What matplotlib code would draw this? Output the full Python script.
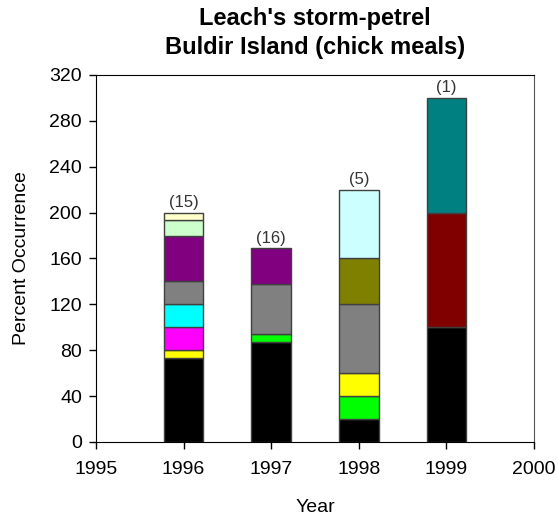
import matplotlib
matplotlib.use("Agg")
import matplotlib.pyplot as plt

plt.rcParams["font.family"] = ["Liberation Sans", "DejaVu Sans"]

# data
years = [1996, 1997, 1998, 1999]
sample_sizes = ["(15)", "(16)", "(5)", "(1)"]
prey_colors = ["#000000", "#00FF00", "#FFFF00", "#FF00FF", "#00FFFF", "#808080",
               "#808000", "#800080", "#CCFFCC", "#FFFFCC", "#CCFFFF", "#800000", "#008080"]
# percent occurrence per prey group (same order as prey_colors), one list per year
pct_1996 = [73.3, 0, 6.7, 20, 20, 20, 0, 40, 13.3, 6.7, 0, 0, 0]
pct_1997 = [87.5, 6.25, 0, 0, 0, 43.75, 0, 31.25, 0, 0, 0, 0, 0]
pct_1998 = [20, 20, 20, 0, 0, 60, 40, 0, 0, 0, 60, 0, 0]
pct_1999 = [100, 0, 0, 0, 0, 0, 0, 0, 0, 0, 0, 100, 100]
pct_by_year = [pct_1996, pct_1997, pct_1998, pct_1999]

fig = plt.figure(figsize=(5.58, 5.24), dpi=100)
ax = fig.add_axes([0.172, 0.1565, 0.785, 0.7005])

for yr, pcts, label in zip(years, pct_by_year, sample_sizes):
    bottom = 0
    for val, col in zip(pcts, prey_colors):
        if val <= 0:
            continue
        ax.bar(yr, val, width=0.45, bottom=bottom, color=col,
               edgecolor="#404040", linewidth=1)
        bottom += val
    ax.text(yr, bottom + 2.5, label, ha="center", va="bottom", fontsize=12, color="#333333")

ax.set_xlim(1995, 2000)
ax.set_ylim(0, 320)
ax.set_xticks(range(1995, 2001))
ax.set_yticks(range(0, 321, 40))
ax.tick_params(labelsize=14, length=5, width=1, direction="out")
ax.tick_params(axis="x", pad=9)
ax.tick_params(axis="y", pad=5)
ax.spines["right"].set_color("#555555")

ax.set_xlabel("Year", fontsize=14, labelpad=15)
ax.set_ylabel("Percent Occurrence", fontsize=14, labelpad=14)
ax.set_title("Leach's storm-petrel\nBuldir Island (chick meals)",
             fontsize=17, fontweight="bold", pad=15, linespacing=1.35)

fig.savefig("out.png", dpi=100)
